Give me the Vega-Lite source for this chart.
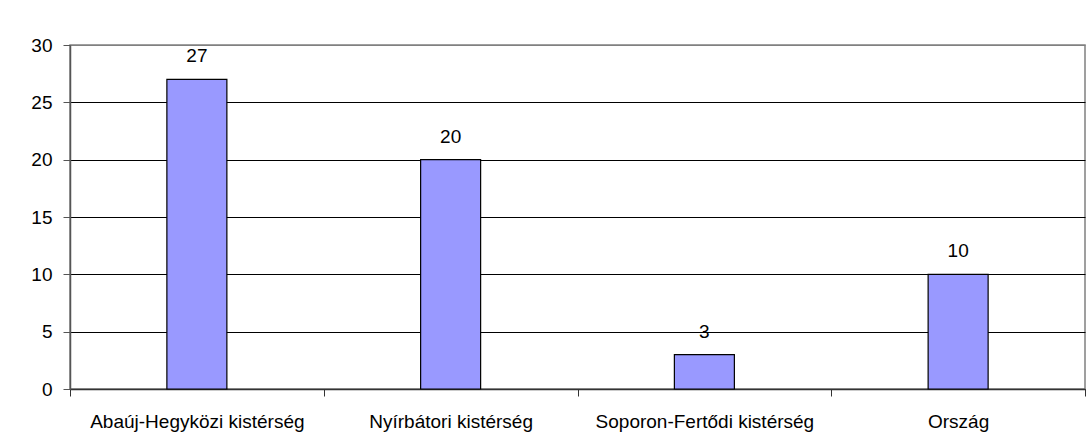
{
  "$schema": "https://vega.github.io/schema/vega-lite/v6.json",
  "autosize": "none",
  "padding": {"left": 70, "top": 45, "right": 5, "bottom": 59},
  "width": 1015,
  "height": 344,
  "background": "white",
  "config": {
    "font": "Liberation Sans",
    "view": {"stroke": "#808080", "strokeWidth": 1.5},
    "axis": {"labelFont": "Liberation Sans", "labelColor": "black", "labelFontSize": 19, "labelLimit": 0}
  },
  "data": {
    "values": [
      {"terulet": "Abaúj-Hegyközi kistérség", "ertek": 27},
      {"terulet": "Nyírbátori kistérség", "ertek": 20},
      {"terulet": "Soporon-Fertődi kistérség", "ertek": 3},
      {"terulet": "Ország", "ertek": 10}
    ]
  },
  "encoding": {
    "x": {
      "field": "terulet",
      "type": "nominal",
      "sort": null,
      "scale": {"paddingInner": 0, "paddingOuter": 0},
      "axis": {
        "title": null,
        "labelAngle": 0,
        "tickBand": "extent",
        "tickSize": 7,
        "tickColor": "#333333",
        "domainColor": "#333333",
        "domainWidth": 1.5,
        "labelBaseline": "alphabetic",
        "labelPadding": 31,
        "grid": false
      }
    },
    "y": {
      "field": "ertek",
      "type": "quantitative",
      "scale": {"domain": [0, 30], "nice": false},
      "axis": {
        "title": null,
        "values": [0, 5, 10, 15, 20, 25, 30],
        "tickSize": 7,
        "tickColor": "#555555",
        "domainColor": "#555555",
        "domainWidth": 1.5,
        "labelPadding": 11,
        "grid": true,
        "gridColor": {"condition": {"test": "datum.value === 30", "value": "#808080"}, "value": "black"},
        "gridOpacity": 1,
        "gridWidth": 1
      }
    }
  },
  "layer": [
    {
      "mark": {"type": "bar", "width": 60, "fill": "#9999FF", "stroke": "black", "strokeWidth": 1.2}
    },
    {
      "mark": {"type": "text", "baseline": "alphabetic", "dy": -17, "fontSize": 19, "color": "black", "font": "Liberation Sans"},
      "encoding": {"text": {"field": "ertek", "type": "quantitative"}}
    }
  ]
}
